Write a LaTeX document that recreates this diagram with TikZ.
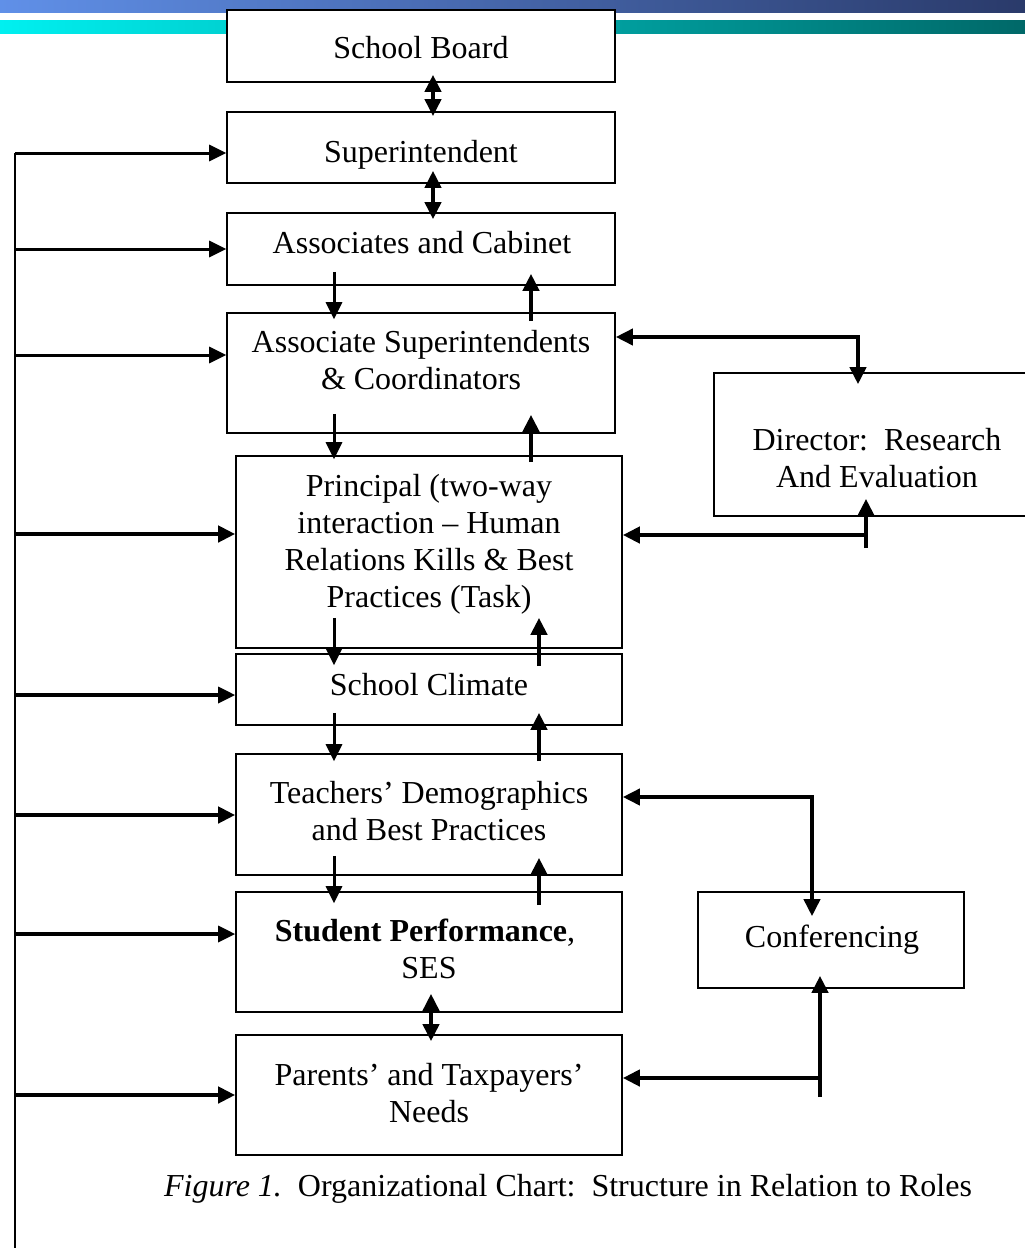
\documentclass[tikz,border=0pt]{standalone}
\usepackage{fontspec}
\setmainfont{Liberation Serif}
\usetikzlibrary{arrows.meta,calc}
\definecolor{barblueL}{RGB}{96,144,232}
\definecolor{barblueR}{RGB}{42,58,106}
\definecolor{barcyanL}{RGB}{0,240,240}
\definecolor{barcyanR}{RGB}{0,104,104}
\frenchspacing
\begin{document}
\begin{tikzpicture}[x=1pt,y=-1pt,
  >={Triangle[length=17pt,width=16pt]},
  box/.style={draw,line width=1.6pt,fill=white,inner sep=0pt},
  txt/.style={font=\fontsize{32}{37}\selectfont,align=center,inner sep=0pt},
  aTwo/.style={line width=3pt,->},
  aThree/.style={line width=3.4pt,->},
  aFour/.style={line width=4.2pt,->},
  dThree/.style={line width=3.8pt,<->}]
\useasboundingbox (0,0) rectangle (1025,1248);
\clip (0,0) rectangle (1025,1248);
% header bars
\shade[left color=barblueL,right color=barblueR] (0,0) rectangle (1025,12);
\shade[left color=barcyanL,right color=barcyanR] (0,20) rectangle (1025,33);
% boxes
\node[box,minimum width=388pt,minimum height=72pt] (sb) at (421,46) {};
\node[box,minimum width=388pt,minimum height=71pt] (sup) at (421,147.5) {};
\node[box,minimum width=388pt,minimum height=72pt] (ac) at (421,249) {};
\node[box,minimum width=388pt,minimum height=120pt] (asc) at (421,373) {};
\node[box,minimum width=386pt,minimum height=192pt] (pr) at (429,552) {};
\node[box,minimum width=386pt,minimum height=71pt] (sc) at (429,689.5) {};
\node[box,minimum width=386pt,minimum height=121pt] (te) at (429,814.5) {};
\node[box,minimum width=386pt,minimum height=120pt] (sp) at (429,952) {};
\node[box,minimum width=386pt,minimum height=120pt] (pa) at (429,1095) {};
\node[box,minimum width=331pt,minimum height=143pt] (dir) at (879.5,444.5) {};
\node[box,minimum width=266pt,minimum height=96pt] (cf) at (831,940) {};
% texts
\node[txt] (sbT) at (421,51) {School Board\strut};
\node[txt] (supT) at (421,155) {Superintendent\strut};
\node[txt] (acT) at (422,246) {Associates and Cabinet\strut};
\node[txt] (ascT) at (421,364) {Associate Superintendents\strut\\ \& Coordinators\strut};
\node[txt] (prT) at (429,545) {Principal (two-way\strut\\interaction -- Human\strut\\Relations Kills \& Best\strut\\Practices (Task)\strut};
\node[txt] (scT) at (429,688) {School Climate\strut};
\node[txt] (teT) at (429,815) {Teachers’ Demographics\strut\\and Best Practices\strut};
\node[txt] (spT) at (429,953) {\textbf{Student Performance}, \strut\\SES\strut};
\node[txt] (paT) at (429,1096.5) {Parents’ and Taxpayers’\strut\\Needs\strut};
\node[txt] (dirT) at (877,461.5) {Director: \ Research\strut\\And Evaluation\strut};
\node[txt] (cfT) at (832,940) {Conferencing\strut};
\node[txt] (cap) at (568,1189.5) {\textit{Figure 1.} \ Organizational Chart: \ Structure in Relation to Roles\strut};
% left trunk
\coordinate (tTop) at (15,153);
\coordinate (tBot) at (15,1260);
\coordinate (t1) at (15,153);
\coordinate (t2) at (15,249);
\coordinate (t3) at (15,355);
\coordinate (t4) at (15,534);
\coordinate (t5) at (15,695);
\coordinate (t6) at (15,815);
\coordinate (t7) at (15,934);
\coordinate (t8) at (15,1095);
\draw[line width=2pt] (tTop) -- (tBot);
\draw[aTwo] (t1) -- (t1 -| sup.west);
\draw[aTwo] (t2) -- (t2 -| ac.west);
\draw[aTwo] (t3) -- (t3 -| asc.west);
\draw[aFour] (t4) -- (t4 -| pr.west);
\draw[aThree] (t5) -- (t5 -| sc.west);
\draw[aFour] (t6) -- (t6 -| te.west);
\draw[aThree] (t7) -- (t7 -| sp.west);
\draw[aFour] (t8) -- (t8 -| pa.west);
% vertical connectors
\coordinate (xm) at (433,0);
\coordinate (xm2) at (431,0);
\coordinate (xd) at (334,0);
\coordinate (xu) at (531,0);
\coordinate (xv) at (539,0);
\draw[dThree] ($(sb.south -| xm)+(0,-8)$) -- ($(sup.north -| xm)+(0,5)$);
\draw[dThree] ($(sup.south -| xm)+(0,-13)$) -- ($(ac.north -| xm)+(0,7)$);
\draw[dThree] ($(sp.south -| xm2)+(0,-19)$) -- ($(pa.north -| xm2)+(0,7)$);
\draw[aTwo] ($(ac.south -| xd)+(0,-14)$) -- ($(asc.north -| xd)+(0,7)$);
\draw[aTwo] ($(asc.south -| xd)+(0,-20)$) -- ($(pr.north -| xd)+(0,4)$);
\draw[aTwo] ($(pr.south -| xd)+(0,-31)$) -- ($(sc.north -| xd)+(0,12)$);
\draw[aTwo] ($(sc.south -| xd)+(0,-13)$) -- ($(te.north -| xd)+(0,8)$);
\draw[aTwo] ($(te.south -| xd)+(0,-20)$) -- ($(sp.north -| xd)+(0,12)$);
\draw[aFour] ($(asc.north -| xu)+(0,9)$) -- ($(ac.south -| xu)+(0,-12)$);
\draw[aFour] ($(pr.north -| xu)+(0,7)$) -- ($(asc.south -| xu)+(0,-19)$);
\draw[aFour] ($(sc.north -| xv)+(0,13)$) -- ($(pr.south -| xv)+(0,-31)$);
\draw[aFour] ($(te.north -| xv)+(0,8)$) -- ($(sc.south -| xv)+(0,-13)$);
\draw[aFour] ($(sp.north -| xv)+(0,14)$) -- ($(te.south -| xv)+(0,-18)$);
% right side connectors
\coordinate (r1) at (858,337);
\draw[dThree] (r1 -| asc.east) -- (r1) -- ($(dir.north -| r1)+(0,12)$);
\coordinate (r2) at (866,535);
\coordinate (r2b) at (866,548);
\draw[aFour] (r2b) -- ($(dir.south -| r2)+(0,-18)$);
\draw[aFour] (r2) -- (r2 -| pr.east);
\coordinate (r3) at (812,797);
\draw[dThree] (r3 -| te.east) -- (r3) -- ($(cf.north -| r3)+(0,25)$);
\coordinate (r4) at (820,1078);
\coordinate (r4b) at (820,1097);
\draw[aFour] (r4b) -- ($(cf.south -| r4)+(0,-13)$);
\draw[aFour] (r4) -- (r4 -| pa.east);
\end{tikzpicture}
\end{document}
